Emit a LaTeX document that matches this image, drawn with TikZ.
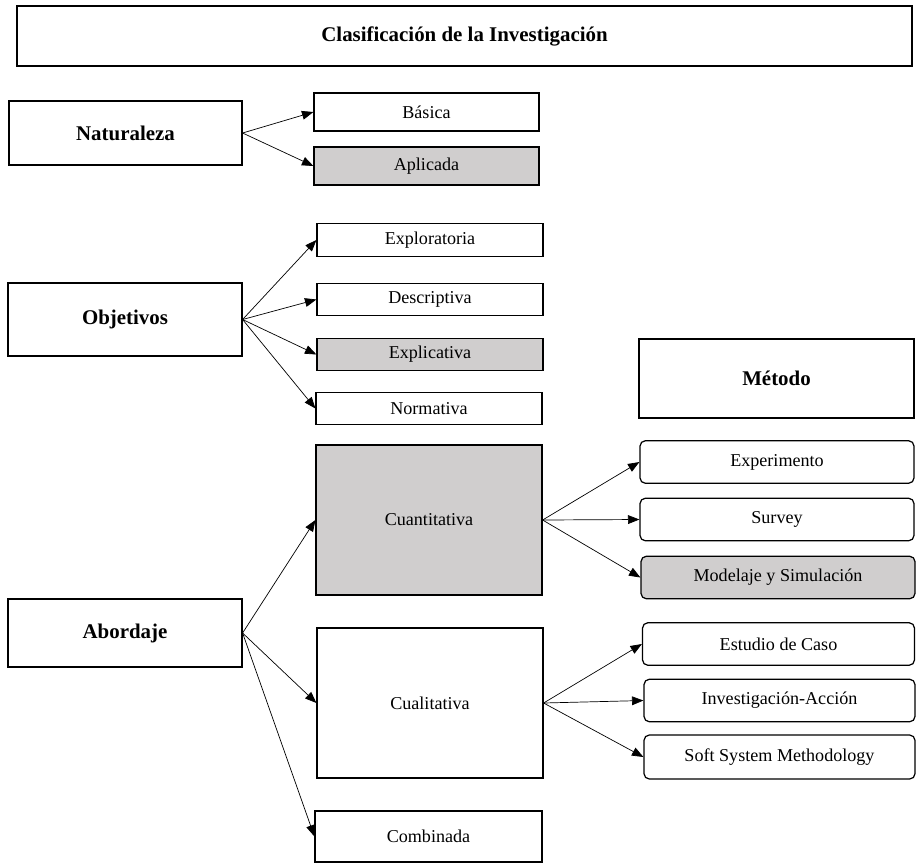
\documentclass[tikz,border=0pt]{standalone}
\usepackage{fontspec}
\setmainfont{Liberation Serif}
\usetikzlibrary{arrows.meta}
\definecolor{grisbox}{RGB}{208,206,206}
\begin{document}
\begin{tikzpicture}[x=0.02cm, y=-0.02cm,
  caja/.style={draw, line width=0.7pt, inner sep=0pt, font=\fontsize{10.3}{12}\selectfont},
  cajagris/.style={caja, fill=grisbox},
  tema/.style={caja, font=\fontsize{11.9}{14}\selectfont\bfseries},
  metodo/.style={caja, rounded corners=3pt, minimum width=5.48cm, minimum height=0.85cm},
  flecha/.style={line width=0.4pt, -{Triangle[length=6.5pt,width=5pt]}}]
\useasboundingbox (0,0) rectangle (916,866);
\node [tema, minimum width=17.9cm, minimum height=1.2cm] (titulo) at (464.5,36) {Clasificación de la Investigación};
% naturaleza
\node [tema, minimum width=4.66cm, minimum height=1.28cm] (naturaleza) at (125.5,133) {Naturaleza};
\node [caja, minimum width=4.5cm, minimum height=0.76cm] (basica) at (426.5,112) {Básica};
\node [cajagris, minimum width=4.5cm, minimum height=0.76cm] (aplicada) at (426.5,166) {Aplicada};
\foreach \t in {basica,aplicada}{
  \draw [flecha] (naturaleza.east) -- (\t.west);
}
% objetivos
\node [tema, minimum width=4.68cm, minimum height=1.46cm] (objetivos) at (125,319.5) {Objetivos};
\node [caja, minimum width=4.52cm, minimum height=0.65cm] (exploratoria) at (430,240) {Exploratoria};
\node [caja, minimum width=4.52cm, minimum height=0.65cm] (descriptiva) at (430,299.5) {Descriptiva};
\node [cajagris, minimum width=4.52cm, minimum height=0.65cm] (explicativa) at (430,354.5) {Explicativa};
\node [caja, minimum width=4.52cm, minimum height=0.65cm] (normativa) at (429,408.5) {Normativa};
\foreach \t in {exploratoria,descriptiva,explicativa,normativa}{
  \draw [flecha] (objetivos.east) -- (\t.west);
}
% abordaje
\node [tema, minimum width=4.68cm, minimum height=1.36cm] (abordaje) at (125,633) {Abordaje};
\node [cajagris, minimum width=4.52cm, minimum height=3cm] (cuantitativa) at (429,520) {Cuantitativa};
\node [caja, minimum width=4.52cm, minimum height=3cm] (cualitativa) at (430,703) {Cualitativa};
\node [caja, minimum width=4.54cm, minimum height=1.02cm] (combinada) at (428.5,836.5) {Combinada};
\foreach \t in {cuantitativa,cualitativa,combinada}{
  \draw [flecha] (abordaje.east) -- (\t.west);
}
% metodo
\node [tema, minimum width=5.5cm, minimum height=1.58cm] (metodoT) at (776.5,378.5) {Método};
\node [metodo] (experimento) at (777,462) {Experimento};
\node [metodo] (survey) at (777,519.5) {Survey};
\node [metodo, fill=grisbox] (modelaje) at (778,577.5) {Modelaje y Simulación};
\foreach \t in {experimento,survey,modelaje}{
  \draw [flecha] (cuantitativa.east) -- (\t.west);
}
\node [metodo, minimum width=5.44cm] (estudio) at (778.5,644) {Estudio de Caso};
\node [metodo, minimum width=5.42cm] (accion) at (779.5,700.5) {Investigación-Acción};
\node [metodo, minimum width=5.42cm, minimum height=0.88cm] (soft) at (779.5,757) {Soft System Methodology};
\foreach \t in {estudio,accion,soft}{
  \draw [flecha] (cualitativa.east) -- (\t.west);
}
\end{tikzpicture}
\end{document}
